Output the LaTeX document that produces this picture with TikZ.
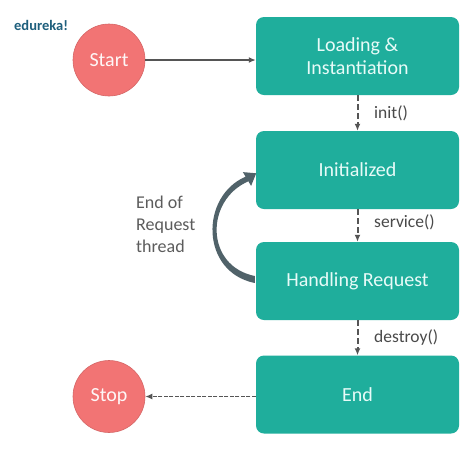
\documentclass[tikz,border=0pt]{standalone}
\usepackage{fontspec}
\setmainfont{Carlito}
\usetikzlibrary{arrows.meta}
\definecolor{teal1}{HTML}{1FAE9C}
\definecolor{salmon}{HTML}{F27474}
\definecolor{boxtext}{HTML}{E8FBF8}
\definecolor{arrowgray}{HTML}{555555}
\definecolor{curvecol}{HTML}{506269}
\definecolor{logocol}{HTML}{1E5F7D}
\definecolor{labelgray}{HTML}{4A4A4A}
\tikzset{
  stbox/.style={fill=teal1, rounded corners=8pt, minimum width=203pt,
    minimum height=78pt, inner sep=0pt, text=boxtext,
    font=\fontsize{20}{23}\selectfont, align=center},
  stcirc/.style={circle, fill=salmon, draw=salmon!88!black, line width=0.6pt,
    minimum size=72pt, inner sep=0pt, text=white!94!salmon,
    font=\fontsize{20}{23}\selectfont},
  solidarrow/.style={draw=arrowgray, line width=1.8pt,
    -{Latex[length=7pt,width=6pt]}},
  dasharrow/.style={draw=arrowgray, line width=2pt, dash pattern=on 6pt off 3pt,
    -{Latex[length=7pt,width=6pt]}},
  dasharrowb/.style={draw=arrowgray, line width=1.6pt, dash pattern=on 4pt off 1.5pt,
    -{Latex[length=7pt,width=6pt]}},
  lbl/.style={text=labelgray, font=\fontsize{17.5}{21}\selectfont, inner sep=0pt},
  sidelbl/.style={text=labelgray!90, font=\fontsize{18}{22}\selectfont,
    inner sep=0pt, align=left},
}
\begin{document}
\begin{tikzpicture}[x=1pt,y=-1pt]
  \useasboundingbox (0,0) rectangle (474,451);
  \fill[white] (0,0) rectangle (474,451);

  \node[font=\bfseries\fontsize{14.5}{14.5}\selectfont, text=logocol, anchor=west,
    inner sep=0pt] (logo) at (14,25) {edureka!};

  \node[stbox] (load) at (357.5,56) {Loading \&\\Instantiation};
  \node[stbox] (init) at (357.5,170) {Initialized};
  \node[stbox] (handle) at (357.5,281) {Handling Request};
  \node[stbox] (endn) at (357.5,394.5) {End};
  \node[stcirc] (start) at (109,60) {Start};
  \node[stcirc] (stop) at (109,396.5) {Stop};

  \draw[solidarrow] (start.east) -- (start.east -| load.west);
  \draw[dasharrow] (load.south) -- (init.north);
  \draw[dasharrow] (init.south) -- (handle.north);
  \draw[dasharrow] (handle.south) -- (endn.north);
  \draw[dasharrowb] (endn.west |- stop.east) -- (stop.east);

  \node[lbl, anchor=west] (linit) at (374,113) {init()};
  \node[lbl, anchor=west] (lservice) at (374,222) {service()};
  \node[lbl, anchor=west] (ldestroy) at (374,338) {destroy()};
  \node[sidelbl, anchor=west] (lthread) at (136,224) {End of\\Request\\thread};

  % curved return arrow (Handling Request -> Initialized)
  \fill[curvecol] ([shift={(-1,2)}]handle.west)
    .. controls (200,272) and (200,196) .. (245.6,176.7)
    -- (242.9,172.1) -- ([shift={(0.4,3.3)}]init.west) -- (251.1,185.9)
    -- (248.4,181.3)
    .. controls (205,200) and (205,266) .. ([shift={(-1,-5)}]handle.west)
    -- cycle;
\end{tikzpicture}
\end{document}
